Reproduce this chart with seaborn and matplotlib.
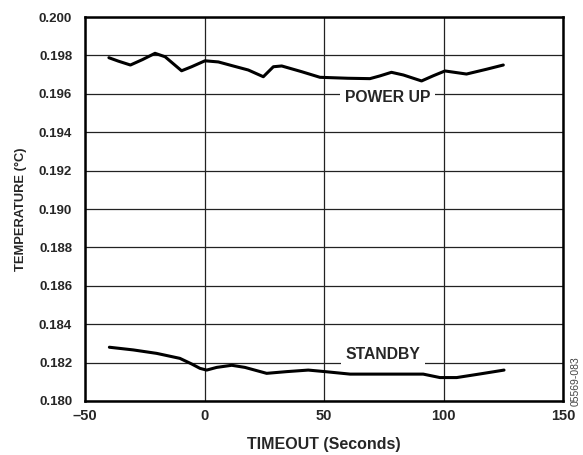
import matplotlib
matplotlib.use("Agg")
import matplotlib.pyplot as plt
import seaborn as sns
import pandas as pd

# Data
power_x = [-40, -36, -31, -26, -20.7, -16.5, -9.6, -5.4, 0.2, 5.8, 12, 18.3, 24.6, 28.8, 32.3, 40.7, 48.3, 60, 69.2, 73.3, 78.2, 83.2, 90.8, 95.7, 100.6, 109.6, 118, 125]
power_y = [0.19788, 0.19770, 0.19750, 0.19778, 0.19811, 0.19793, 0.19720, 0.19741, 0.19772, 0.19766, 0.19745, 0.19724, 0.19689, 0.19741, 0.19745, 0.19715, 0.19686, 0.19681, 0.19679, 0.19693, 0.19712, 0.19698, 0.19667, 0.19694, 0.19719, 0.19703, 0.19728, 0.19750]
standby_x = [-39.8, -29.8, -20, -10.3, -5.4, -1.9, 0.9, 5.1, 11.4, 16.9, 26, 34.4, 43.4, 50.4, 60.9, 75, 91.5, 98.5, 105.5, 115.3, 125.3]
standby_y = [0.18280, 0.18266, 0.18248, 0.18222, 0.18193, 0.18170, 0.18161, 0.18175, 0.18186, 0.18175, 0.18144, 0.18153, 0.18161, 0.18153, 0.18140, 0.18140, 0.18140, 0.18122, 0.18122, 0.18141, 0.18161]

x_ticks = [-50, 0, 50, 100, 150]
x_tick_labels = ["\u201350", "0", "50", "100", "150"]
y_ticks = [0.180, 0.182, 0.184, 0.186, 0.188, 0.190, 0.192, 0.194, 0.196, 0.198, 0.200]
y_tick_labels = ["%.3f" % v for v in y_ticks]

sns.set_style("white")
plt.rcParams["font.family"] = ["Liberation Sans", "DejaVu Sans"]
plt.rcParams["font.weight"] = "bold"

fig = plt.figure(figsize=(5.83, 4.55), dpi=100)
ax = fig.add_axes([0.1458, 0.1187, 0.82, 0.8439])

df_p = pd.DataFrame({"x": power_x, "y": power_y})
df_s = pd.DataFrame({"x": standby_x, "y": standby_y})
for df in (df_p, df_s):
    sns.lineplot(data=df, x="x", y="y", ax=ax, color="black", linewidth=2.2, zorder=3,
                 solid_joinstyle="round", solid_capstyle="round")

ax.set_xlim(-50, 150)
ax.set_ylim(0.180, 0.200)
ax.set_xticks(x_ticks)
ax.set_xticklabels(x_tick_labels, fontsize=10.5, fontweight="bold")
ax.set_yticks(y_ticks)
ax.set_yticklabels(y_tick_labels, fontsize=9.5, fontweight="bold")
ax.tick_params(axis="both", length=0)
ax.tick_params(axis="y", pad=9.2)
ax.tick_params(axis="x", pad=6)

ax.grid(True, color="#222222", linewidth=0.9)
for s in ax.spines.values():
    s.set_visible(True)
    s.set_color("black")
    s.set_linewidth(1.8)

ax.set_xlabel("TIMEOUT (Seconds)", fontsize=11.5, fontweight="bold", va="center")
ax.xaxis.set_label_coords(0.5, -0.1146)
ax.set_ylabel("TEMPERATURE (\u00b0C)", fontsize=9.3, fontweight="bold", va="center")
ax.yaxis.set_label_coords(-0.134, 0.5)

ax.text(76.7, 0.19582, "POWER UP", fontsize=11.3, fontweight="bold", ha="center", va="center",
        bbox=dict(facecolor="white", edgecolor="none", pad=3.5), zorder=4)
ax.text(74.6, 0.18243, "STANDBY", fontsize=11.3, fontweight="bold", ha="center", va="center",
        bbox=dict(facecolor="white", edgecolor="none", pad=3.5), zorder=4)

fig.text(0.988, 0.162, "05569-083", rotation=90, fontsize=7.5, fontweight="normal",
         color="#444444", ha="center", va="center")

fig.savefig("out.png", dpi=100)
